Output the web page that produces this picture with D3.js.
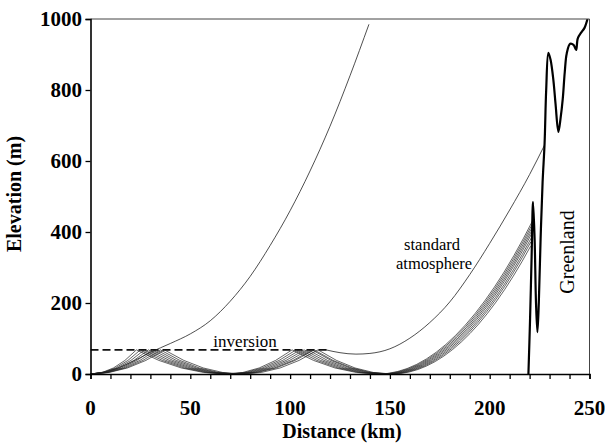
<!DOCTYPE html>
<html><head><meta charset="utf-8">
<script src="https://cdn.jsdelivr.net/npm/d3@7"></script>
<style>
html,body{margin:0;padding:0;background:#fff;}
svg{display:block;}
text{font-family:"Liberation Serif","Times New Roman",serif;fill:#000;}
</style></head>
<body>
<svg id="chart" width="605" height="443"></svg>
<script>
// ---- data ----
const xTicks = [0, 50, 100, 150, 200, 250];
const yTicks = [0, 200, 400, 600, 800, 1000];
const inversionHeight = 68;
const inversionEnd = 120;

// ducted rays: first peak, first ground touch, second peak, second ground touch, end point
const rayPeak1   = [23, 25, 27, 29, 31, 33, 35, 37];
const rayGround1 = [68, 69, 70, 71, 72, 73, 74, 76];
const rayPeak2   = [101, 103, 105, 107, 109, 111, 112, 114];
const rayGround2 = [144, 145, 146, 147, 148, 149, 150, 151];
const rayEndX    = [221.8, 221.6, 221.4, 221.2, 221.0, 220.8, 220.6, 220.5];
const rayEndY    = [435, 425, 415, 405, 395, 383, 372, 360];

// ray escaping through the inversion (upper thin curve)
const upperX = [0, 10, 20, 30, 40, 50, 60, 70, 80, 90, 100, 110, 120, 130, 139.5];
const upperY = [0, 10, 32, 61, 86, 113, 150, 205, 275, 362, 460, 572, 698, 840, 985];

// standard atmosphere ray
const stdX = [118, 125, 133, 140, 150, 160, 170, 180, 190, 200, 210, 220, 227.5];
const stdY = [68, 60, 56, 58, 71, 101, 145, 203, 280, 368, 462, 562, 645];

// Greenland terrain profile
const landX = [219.4, 220.2, 221.0, 221.7, 222.5, 223.2, 223.9, 224.6, 225.5, 226.5, 227.5, 228.3, 229.4, 230.5, 231.9, 233.0, 234.4, 235.5, 236.6, 237.6, 238.6, 240.3, 242.0, 243.3, 244.1, 246.1, 247.5, 249.0];
const landY = [0, 150, 330, 485, 380, 200, 118, 200, 380, 540, 650, 800, 905, 885, 828, 760, 682, 720, 775, 850, 903, 930, 927, 913, 945, 964, 975, 1000];

// ---- layout ----
const svg = d3.select("#chart");
const x = d3.scaleLinear().domain([0, 250]).range([90.5, 589.5]);
const y = d3.scaleLinear().domain([0, 1000]).range([374, 19]);

svg.append("clipPath").attr("id", "clip").append("rect")
  .attr("x", x(0)).attr("y", y(1000)).attr("width", x(250) - x(0)).attr("height", y(0) - y(1000));

const plot = svg.append("g").attr("clip-path", "url(#clip)");

// frame (top & right)
svg.append("line").attr("x1", x(0)).attr("x2", x(250)).attr("y1", y(1000)).attr("y2", y(1000))
  .attr("stroke", "#444").attr("stroke-width", 1);
svg.append("line").attr("x1", x(250)).attr("x2", x(250)).attr("y1", y(1000)).attr("y2", y(0))
  .attr("stroke", "#444").attr("stroke-width", 1);

// axes
const xAxis = d3.axisBottom(x).tickValues(d3.range(0, 251, 10)).tickSize(5).tickFormat("");
const gx = svg.append("g").attr("transform", `translate(0,${y(0)})`).call(xAxis);
gx.select(".domain").attr("stroke", "#000").attr("stroke-width", 1.6);
gx.selectAll(".tick line").attr("stroke", "#000").attr("stroke-width", 1.3);

const yAxis = d3.axisLeft(y).tickValues(yTicks).tickSize(5).tickFormat("");
const gy = svg.append("g").attr("transform", `translate(${x(0)},0)`).call(yAxis);
gy.select(".domain").attr("stroke", "#000").attr("stroke-width", 1.6);
gy.selectAll(".tick line").attr("stroke", "#000").attr("stroke-width", 1.3);

// tick labels
svg.append("g").selectAll("text").data(xTicks).join("text")
  .attr("x", d => x(d)).attr("y", 415).attr("text-anchor", "middle")
  .attr("font-size", 21).attr("font-weight", "bold").text(d => d);
svg.append("g").selectAll("text").data(yTicks).join("text")
  .attr("x", 82).attr("y", d => y(d) + 7).attr("text-anchor", "end")
  .attr("font-size", 21).attr("font-weight", "bold").text(d => d);

// axis titles
svg.append("text").attr("x", 342).attr("y", 438).attr("text-anchor", "middle")
  .attr("font-size", 20).attr("font-weight", "bold").text("Distance (km)");
svg.append("text").attr("transform", "translate(21,194) rotate(-90)").attr("text-anchor", "middle")
  .attr("font-size", 20).attr("font-weight", "bold").text("Elevation (m)");

// inversion dashed line
plot.append("line").attr("x1", x(0)).attr("x2", x(inversionEnd))
  .attr("y1", y(inversionHeight)).attr("y2", y(inversionHeight))
  .attr("stroke", "#111").attr("stroke-width", 1.6).attr("stroke-dasharray", "8,4");

// ducted rays
rayPeak1.forEach((p1, i) => {
  const g1 = rayGround1[i], p2 = rayPeak2[i], g2 = rayGround2[i], ex = rayEndX[i], ey = rayEndY[i];
  const h = inversionHeight;
  const p = d3.path();
  p.moveTo(x(0), y(0));
  p.quadraticCurveTo(x(p1 / 2), y(0), x(p1), y(h));
  p.quadraticCurveTo(x((p1 + g1) / 2), y(0), x(g1), y(0));
  p.quadraticCurveTo(x((g1 + p2) / 2), y(0), x(p2), y(h));
  p.quadraticCurveTo(x((p2 + g2) / 2), y(0), x(g2), y(0));
  p.quadraticCurveTo(x((g2 + ex) / 2), y(0), x(ex), y(ey));
  plot.append("path").attr("d", p.toString()).attr("fill", "none")
    .attr("stroke", "#222").attr("stroke-width", 0.7);
});

const line = d3.line().x(d => x(d[0])).y(d => y(d[1])).curve(d3.curveMonotoneX);

plot.append("path").attr("d", line(d3.zip(upperX, upperY))).attr("fill", "none")
  .attr("stroke", "#222").attr("stroke-width", 0.8);
plot.append("path").attr("d", line(d3.zip(stdX, stdY))).attr("fill", "none")
  .attr("stroke", "#222").attr("stroke-width", 0.8);

// Greenland
plot.append("path").attr("d", d3.line().x(d => x(d[0])).y(d => y(d[1])).curve(d3.curveCatmullRom.alpha(0.5))(d3.zip(landX, landY)))
  .attr("fill", "none").attr("stroke", "#000").attr("stroke-width", 2.2).attr("stroke-linejoin", "round");

// annotations
svg.append("text").attr("x", 245).attr("y", 347).attr("text-anchor", "middle").attr("font-size", 17).text("inversion");
svg.append("text").attr("x", 432).attr("y", 250).attr("text-anchor", "middle").attr("font-size", 16.5).text("standard");
svg.append("text").attr("x", 434).attr("y", 269).attr("text-anchor", "middle").attr("font-size", 16.5).text("atmosphere");
svg.append("text").attr("transform", "translate(574,252) rotate(-90)").attr("text-anchor", "middle")
  .attr("font-size", 20).text("Greenland");
</script>
</body></html>
